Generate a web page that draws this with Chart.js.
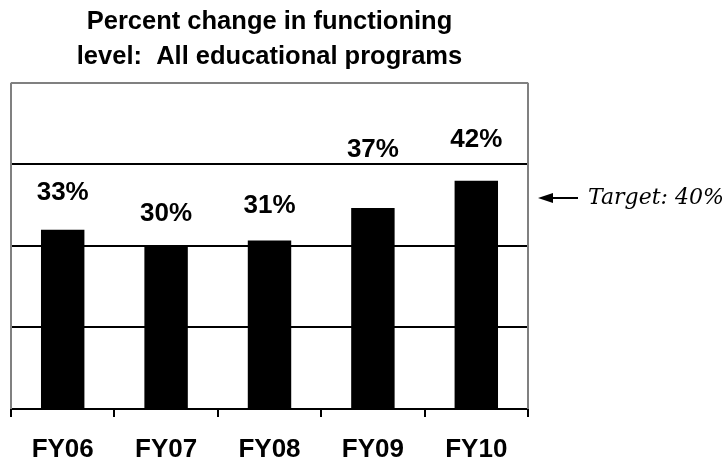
<!DOCTYPE html>
<html>
<head>
<meta charset="utf-8">
<script src="https://cdn.jsdelivr.net/npm/chart.js@4/dist/chart.umd.min.js"></script>
<style>
  body { margin: 0; background: #fff; }
</style>
</head>
<body>
<canvas id="myChart" width="726" height="461"></canvas>
<script>
// values
const years = ['FY06', 'FY07', 'FY08', 'FY09', 'FY10'];
const pctChange = [33, 30, 31, 37, 42];
const pctLabels = ['33%', '30%', '31%', '37%', '42%'];
const targetText = 'Target: 40%';

// how far above each bar top the label sits (labels were placed by hand in the original)
const labelLift = [37, 32, 35, 58, 41];

const boxAndLabels = {
  id: 'boxAndLabels',
  afterDatasetsDraw(chart) {
    const ctx = chart.ctx;
    const a = chart.chartArea;
    ctx.save();
    // grey frame left / right
    ctx.strokeStyle = '#808080';
    ctx.lineWidth = 2;
    ctx.beginPath();
    ctx.moveTo(a.left, a.top);
    ctx.lineTo(a.left, a.bottom);
    ctx.moveTo(a.right, a.top);
    ctx.lineTo(a.right, a.bottom);
    ctx.stroke();

    // value labels
    ctx.fillStyle = '#000';
    ctx.font = 'bold 26px "Liberation Sans", Arial, sans-serif';
    ctx.textAlign = 'center';
    ctx.textBaseline = 'middle';
    chart.getDatasetMeta(0).data.forEach(function (bar, i) {
      ctx.fillText(pctLabels[i], bar.x, bar.y - labelLift[i]);
    });

    // target note at the right
    const y = 198;
    ctx.lineWidth = 2;
    ctx.strokeStyle = '#000';
    ctx.beginPath();
    ctx.moveTo(a.right + 20, y);
    ctx.lineTo(a.right + 50, y);
    ctx.stroke();
    ctx.beginPath();
    ctx.moveTo(a.right + 10, y);
    ctx.lineTo(a.right + 25, y - 5);
    ctx.lineTo(a.right + 25, y + 5);
    ctx.closePath();
    ctx.fill();
    ctx.font = 'italic 22px "DejaVu Serif", serif';
    ctx.textAlign = 'left';
    ctx.fillText(targetText, a.right + 60, y);
    ctx.restore();
  }
};

const ctx = document.getElementById('myChart');
const charts = new Chart(ctx, {
  type: 'bar',
  data: {
    labels: years,
    datasets: [{
      data: pctChange,
      backgroundColor: '#000',
      barPercentage: 0.42,
      categoryPercentage: 1.0
    }]
  },
  options: {
    responsive: false,
    animation: false,
    layout: { padding: { left: 11, right: 198, top: 0, bottom: 0 } },
    plugins: {
      legend: { display: false },
      tooltip: { enabled: false },
      title: {
        display: true,
        text: ['Percent change in functioning', 'level:  All educational programs'],
        color: '#000',
        font: { family: '"Liberation Sans", Arial, sans-serif', size: 25.5, weight: 'bold', lineHeight: 1.37 },
        padding: { top: 5, bottom: 8 }
      }
    },
    scales: {
      x: {
        grid: {
          display: true,
          drawOnChartArea: false,
          drawTicks: true,
          tickLength: 8,
          color: '#000',
          lineWidth: 2,
          offset: true
        },
        border: { display: true, color: '#000', width: 2 },
        ticks: {
          color: '#000',
          padding: 20,
          maxRotation: 0,
          font: { family: '"Liberation Sans", Arial, sans-serif', size: 26, weight: 'bold', lineHeight: 1 }
        },
        afterFit: function (scale) { scale.height = 52; }
      },
      y: {
        min: 0,
        max: 60,
        ticks: { stepSize: 15, display: false },
        grid: {
          drawTicks: false,
          lineWidth: 2,
          color: function (c) { return c.tick && c.tick.value === 60 ? '#808080' : '#000'; }
        },
        border: { display: false }
      }
    }
  },
  plugins: [boxAndLabels]
});
</script>
</body>
</html>
